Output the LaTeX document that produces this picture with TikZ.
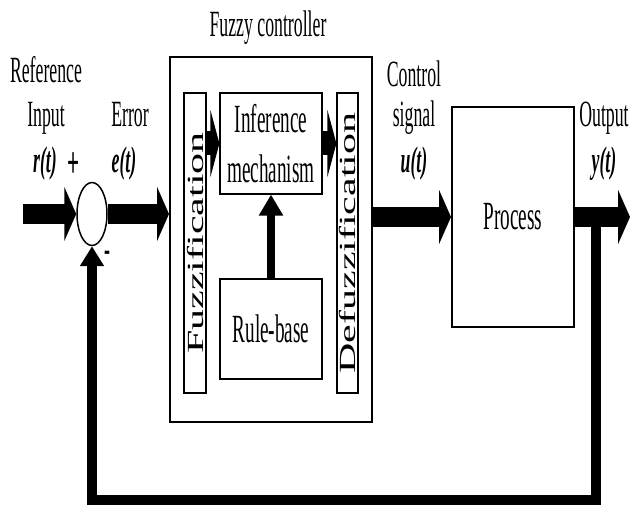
\documentclass[tikz,border=0pt]{standalone}
\usepackage{graphicx}
\usepackage{fontspec}
\setmainfont{Liberation Serif}
\usetikzlibrary{arrows.meta,shapes.geometric}
\newcommand{\sq}[1]{\scalebox{0.48}[1]{#1}} % 横向压缩的文字
\newcommand{\vsq}[1]{\rotatebox{90}{\scalebox{1}[0.55]{#1}}} % 竖排文字

\begin{document}
\begin{tikzpicture}[x=1pt,y=-1pt, % 以像素为单位
  lbl/.style={font=\fontsize{37}{40}\selectfont, inner sep=0pt, anchor=base},
  blk/.style={draw, line width=1.2pt, inner sep=0pt, font=\fontsize{40}{50}\selectfont, align=center},
  bar/.style={blk, minimum width=22pt, minimum height=300pt, font=\fontsize{42}{42}\selectfont},
  bigarrow/.style={line width=20pt, -{Triangle[length=12pt,width=54pt]}},
  midarrow/.style={line width=24pt, -{Triangle[length=9pt,width=67pt]}},
  thinarrow/.style={line width=8pt, -{Triangle[length=21pt,width=23pt]}},
  fbline/.style={line width=10pt, -{Triangle[length=20pt,width=23pt]}}]
\useasboundingbox (0,0) rectangle (630,508); % 画布大小
% 模糊控制器外框
\node[blk, line width=2pt, minimum width=202pt, minimum height=365pt] (fc) at (271,239.5) {};
\node[lbl] (fctitle) at (268,37) {\sq{Fuzzy controller}};
% 内部模块
\node[bar] (fz) at (195,243) {\vsq{Fuzzification}};
\node[bar, minimum width=21pt] (dfz) at (347.5,243) {\vsq{Defuzzification}};
\node[blk, minimum width=102pt, minimum height=101pt] (inf) at (271,143.5) {\sq{Inference}\\\sq{mechanism}};
\node[blk, minimum width=102pt, minimum height=100pt] (rb) at (271,329) {\sq{Rule-base}};
% 被控对象
\node[blk, line width=2pt, minimum width=122pt, minimum height=220pt] (proc) at (513,217) {\sq{Process}};
% 求和点
\node[draw, ellipse, line width=1.5pt, minimum width=30pt, minimum height=63pt, inner sep=0pt] (sum) at (92,214) {};
% 文字标注
\node[lbl] (refl) at (46,83) {\sq{Reference}};
\node[lbl] (inpl) at (46,127) {\sq{Input}};
\node[lbl] (rt) at (45,173) {\sq{\textbf{\textit{r(t)}}}};
\node[lbl, anchor=center, font=\fontsize{44}{44}\selectfont] (plus) at (74,165) {\sq{\textbf{+}}};
\node[lbl, anchor=center] (minus) at (107,256) {\sq{\textbf{-}}};
\node[lbl] (errl) at (130,127) {\sq{Error}};
\node[lbl] (et) at (124,173) {\sq{\textbf{\textit{e(t)}}}};
\node[lbl] (ctll) at (414,87) {\sq{Control}};
\node[lbl] (sigl) at (414,127) {\sq{signal}};
\node[lbl] (ut) at (414,173) {\sq{\textbf{\textit{u(t)}}}};
\node[lbl] (outl) at (604,127) {\sq{Output}};
\node[lbl] (yt) at (604,173) {\sq{\textbf{\textit{y(t)}}}};
% 端点
\coordinate (src) at (23,214);
\coordinate (dst) at (630,217);
\coordinate (tap) at (596,217);
\coordinate (bot) at (92,500);
% 主通道
\draw[bigarrow] (src) -- (sum.west);
\draw[bigarrow] (sum.east) -- (fc.west |- sum.east);
\draw[bigarrow] (fc.east |- proc.west) -- (proc.west);
\draw[bigarrow] (proc.east) -- (dst);
% 反馈
\draw[fbline] (tap) |- (bot) -- (sum.south);
% 控制器内部
\draw[midarrow] (fz.east |- inf.west) -- (inf.west);
\draw[midarrow] (inf.east) -- (dfz.west |- inf.east);
\draw[thinarrow] (rb.north) -- (inf.south);
\end{tikzpicture}
\end{document}
